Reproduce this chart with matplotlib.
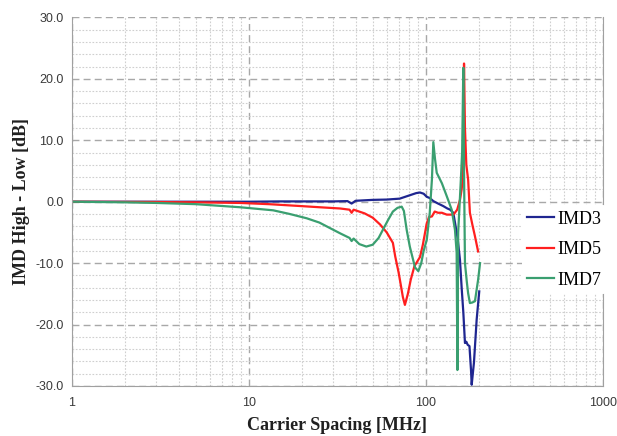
import numpy as np
import matplotlib.pyplot as plt
from matplotlib.ticker import LogLocator, MultipleLocator, FormatStrFormatter, NullFormatter

# carrier spacing [MHz] and high-low difference [dB] per IMD order
f_imd3 = [1, 2, 5, 10, 15, 20, 30, 36, 38, 40, 50, 60, 71, 80, 88, 92.5, 97, 101,
          105, 110, 117, 125, 132, 137, 142.6, 146, 151, 155.6, 159, 162.5, 166,
          169, 172, 176, 179.6, 181.2, 186.6, 193.3, 199.9]
imd3 = [0, 0, 0, 0, 0.05, 0.05, 0.05, 0.1, -0.3, 0.15, 0.3, 0.35, 0.5, 1.0, 1.4, 1.5,
        1.3, 0.8, 0.6, 0.1, -0.3, -0.7, -1.1, -1.3, -1.8, -3.5, -6.0, -9.5, -14.0,
        -18.0, -23.0, -22.8, -23.3, -23.5, -27.4, -29.8, -26.2, -19.2, -14.6]

f_imd5 = [1, 3, 5, 8.9, 13, 19.4, 25, 32.7, 37, 38, 39, 45, 50, 55, 60, 65, 67, 70,
          72, 74, 76, 79, 82, 86, 92.5, 96, 101, 104, 108, 112, 117, 123, 131, 143,
          150, 155.6, 159, 161, 162.5, 164, 166, 169, 173, 177, 183, 189, 197]
imd5 = [0, -0.05, -0.1, -0.2, -0.4, -0.7, -0.9, -1.1, -1.3, -1.8, -1.3, -1.9, -2.6,
        -3.7, -5.0, -6.7, -8.9, -11.5, -13.5, -15.5, -16.8, -15.0, -12.7, -10.5, -9.0,
        -7.0, -3.5, -2.5, -2.4, -1.6, -1.8, -1.8, -2.1, -2.1, -1.3, 0.3, 2.0, 3.5,
        10.0, 22.5, 12.0, 6.0, 3.6, -1.8, -3.8, -5.6, -8.1]

f_imd7 = [1, 2, 3, 5, 8.9, 13.7, 17, 21.2, 25, 28.7, 33, 37, 38, 39, 42, 46, 50, 54,
          57, 61, 65, 69, 72.9, 75, 77.8, 81, 86.7, 90.5, 94, 97, 101, 105, 108, 110,
          112.4, 115, 123, 131, 139.7, 145.8, 149, 150.5, 152, 157, 160, 162.5, 164,
          166, 170, 173, 177, 183, 189, 197, 202]
imd7 = [0, -0.1, -0.2, -0.4, -0.9, -1.4, -2.0, -2.7, -3.4, -4.3, -5.2, -5.9, -6.4,
        -6.0, -6.9, -7.3, -7.0, -5.9, -4.6, -3.0, -1.6, -1.0, -0.8, -1.5, -4.6, -7.3,
        -10.7, -11.3, -10.0, -8.0, -6.2, -1.8, 3.6, 9.7, 7.0, 4.7, 3.0, 0.9, -1.3,
        -4.6, -8.3, -27.4, -5.0, 3.0, 8.0, 21.8, 5.0, -10.0, -13.0, -14.9, -16.5,
        -16.4, -16.2, -12.7, -10.0]

series = [("IMD3", f_imd3, imd3, "#1f2690"),
          ("IMD5", f_imd5, imd5, "#ff1f1f"),
          ("IMD7", f_imd7, imd7, "#3a9f70")]

fig = plt.figure(figsize=(6.17, 4.36), dpi=100)
ax = fig.add_axes([0.1167, 0.1147, 0.8606, 0.8453])

for name, f, v, c in series:
    ax.plot(f, v, color=c, lw=1.6, label=name)

ax.set_xscale("log")
ax.set_xlim(1, 1000)
ax.set_ylim(-30, 30)
ax.xaxis.set_major_locator(LogLocator(base=10))
ax.xaxis.set_minor_locator(LogLocator(base=10, subs=np.arange(2, 10)))
ax.xaxis.set_minor_formatter(NullFormatter())
ax.xaxis.set_major_formatter(FormatStrFormatter("%g"))
ax.yaxis.set_major_locator(MultipleLocator(10))
ax.yaxis.set_minor_locator(MultipleLocator(2))
ax.yaxis.set_major_formatter(FormatStrFormatter("%.1f"))

ax.grid(which="major", color="#a8a8a8", ls=(0, (5, 3)), lw=1.0)
ax.grid(which="minor", color="#cfcfcf", ls=(0, (1.5, 1.5)), lw=0.8)
ax.set_axisbelow(True)

for s in ["left", "bottom", "right"]:
    ax.spines[s].set_color("#a0a0a0")
ax.spines["top"].set_visible(False)
ax.tick_params(which="both", length=0, labelsize=9, labelcolor="#3a3a3a", pad=6)
ax.tick_params(axis="x", pad=8)
for lbl in ax.get_xticklabels() + ax.get_yticklabels():
    lbl.set_family(["Liberation Sans", "DejaVu Sans"])

serif = ["Liberation Serif", "DejaVu Serif"]
ax.set_xlabel("Carrier Spacing [MHz]", fontsize=13, fontweight="bold", family=serif,
              color="#202020", labelpad=6)
ax.set_ylabel("IMD High - Low [dB]", fontsize=13, fontweight="bold", family=serif,
              color="#202020", labelpad=4)

leg = ax.legend(loc="center left", bbox_to_anchor=(0.83, 0.37), frameon=True,
                prop={"family": serif, "size": 13}, handlelength=1.5,
                handletextpad=0.15, labelspacing=0.75, borderpad=0.3)
leg.get_frame().set_facecolor("white")
leg.get_frame().set_edgecolor("none")
leg.get_frame().set_alpha(1)

fig.savefig("out.png", dpi=100)
